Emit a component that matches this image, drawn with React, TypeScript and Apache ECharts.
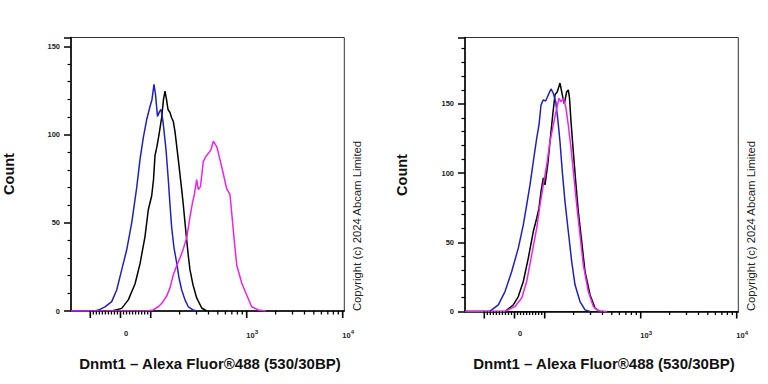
import React, { useEffect, useRef } from "react";
import * as echarts from "echarts";

// ---- x-axis: biexponential display (channel units) ----
const ZERO = 49.5; // channel of value 0
const SLOPE = 0.302; // channels per unit in linear region
const LIN = 100; // linear region limit
const DEC = 96; // channels per decade
const X_MAX = 273.3;
const T = (v: number): number =>
  Math.abs(v) <= LIN
    ? ZERO + SLOPE * v
    : ZERO + Math.sign(v) * (SLOPE * LIN + DEC * Math.log10(Math.abs(v) / LIN));

const xMajorTicks = [-100, 0, 100, 1000, 10000];
const xMinorTicks = [
  -90, -80, -70, -60, -50, -40, -30, -20, -10, 10, 20, 30, 40, 50, 60, 70, 80, 90,
  200, 300, 400, 500, 600, 700, 800, 900, 2000, 3000, 4000, 5000, 6000, 7000, 8000, 9000,
];
const xLabelValues = [0, 1000, 10000];
const xLabelTexts = ["0", "10{s|3}", "10{s|4}"];

// ---- y-axis ----
const yMaxLeft = 155;
const yMaxRight = 198;
const yInterval = 50;
const yMajorTicks = [0, 50, 100, 150];

// ---- left panel histograms (x in display channels, y = count) ----
const blueLeftX = [0, 24, 29, 34, 40.7, 45.7, 50.7, 55.7, 60.7, 65.7, 69, 72.3, 75.7, 79, 81, 83, 84.5, 86.5, 88.5, 90, 92, 95, 97.3, 99, 100.7, 103, 105.7, 108, 110.7, 114, 117.3, 122, 126];
const blueLeftY = [0, 0, 0.9, 2.3, 5.3, 11.9, 23.3, 34.7, 50, 69.9, 85.8, 98.3, 108.5, 115.9, 119.9, 128.4, 122.7, 110.2, 113, 114.2, 107.4, 91.5, 74.4, 60.2, 47.2, 35.8, 27.3, 18.8, 11.9, 6.3, 2.4, 0.6, 0];
const blackLeftX = [0, 40.7, 50.7, 57.3, 64, 69, 74, 77.3, 80.7, 82.5, 84, 86, 88, 90.7, 92.5, 94, 95.5, 97, 99, 100.5, 102.3, 104, 107.3, 110.7, 112.3, 114, 115.7, 117.3, 119, 122, 125.7, 130.7, 135.7];
const blackLeftY = [0, 0, 1.5, 6.3, 15.3, 26.7, 42.2, 57.4, 65.3, 74.4, 88.1, 93.4, 100, 109.7, 119.9, 124.6, 119.9, 114.2, 112.5, 109.7, 107.4, 101.7, 85.8, 68.8, 60.2, 50, 40.3, 31.3, 23.3, 14.8, 7.4, 1.7, 0];
const magentaLeftX = [0, 75.7, 82, 87.3, 91, 95.7, 99, 102.3, 105.7, 109, 112.3, 115.7, 119, 121.5, 123.3, 125.7, 127.3, 129.5, 132.3, 135, 137.3, 140, 142.3, 145.7, 149, 152.3, 155.7, 159, 160.7, 163, 165.7, 170.7, 175.7, 180.7, 187.3, 195];
const magentaLeftY = [0, 0, 0.6, 2.4, 4.5, 8.5, 13.1, 20.5, 25.6, 30.1, 35.2, 41.5, 53.4, 61.4, 65.9, 74.4, 68.8, 70.5, 84.7, 87.7, 89.2, 91.5, 96.2, 93.2, 85.8, 77.8, 69.3, 65.9, 55.7, 41.5, 26.1, 15.9, 9.1, 2.4, 0.6, 0];

// ---- right panel histograms ----
const blueRightX = [0, 24, 26.7, 33.3, 40, 46.7, 53.3, 58.3, 61.7, 65, 68.3, 71.7, 74, 76, 78.3, 80.7, 83.3, 86, 88.3, 90.7, 92.7, 95, 97.3, 100, 103.3, 106.7, 110, 115, 120, 125];
const blueRightY = [0, 0, 1.2, 4.8, 14.4, 28.9, 45.8, 62.6, 77, 91.5, 108.3, 125.2, 134.8, 149.2, 152.9, 152.1, 156.5, 160.8, 157.7, 151.6, 139.6, 122.7, 101.1, 79.4, 57.8, 36.1, 19.3, 7.2, 1.2, 0];
const blackRightX = [0, 40, 48.3, 53.3, 58.3, 63.3, 68.3, 71.7, 74, 76, 78.3, 80, 82.7, 85, 87.7, 90, 92.3, 95, 97.3, 99.3, 101.7, 103.3, 104.5, 106, 108.3, 110.7, 113.3, 116.7, 120, 125, 130, 135];
const blackRightY = [0, 0, 4.8, 10.8, 21.7, 38.6, 57.8, 67.4, 74.7, 86.6, 96.5, 91.5, 105.9, 122.7, 142, 156.5, 158.8, 165.1, 156.5, 150, 158.8, 160.1, 154.3, 137.2, 115.5, 93.9, 72.2, 50.5, 28.9, 12.1, 2.5, 0];
const magentaRightX = [0, 40, 50, 56.7, 61.7, 66.7, 71.7, 75, 78.3, 81.7, 85, 88.3, 91.7, 94, 96, 98.3, 100.7, 103.3, 106, 108.7, 111.7, 115, 118.3, 123.3, 128.3, 133.3, 142];
const magentaRightY = [0, 0, 3.6, 9.7, 21.7, 40.9, 60.2, 77, 91.5, 105.9, 122.7, 134.8, 146.9, 154.1, 151.6, 154.1, 148, 134.8, 118, 98.7, 77, 55.4, 33.7, 14.4, 3.6, 0.5, 0];

const COLORS = { blue: "#2020c0", black: "#000000", magenta: "#ee22ee" };
const FONT = 'Arial, "Liberation Sans", Helvetica, sans-serif';
const XTITLE = "Dnmt1 \u2013 Alexa Fluor\u00AE488 (530/30BP)";
const COPYRIGHT = "Copyright (c) 2024 Abcam Limited";

const MAJOR_LEN = 7;
const MINOR_LEN = 3.5;

const zip = (xs: number[], ys: number[]) => xs.map((x, i) => [x, ys[i]]);

export default function App() {
  const ref = useRef<HTMLDivElement>(null);
  useEffect(() => {
    if (!ref.current) return;
    const chart = echarts.init(ref.current, null, { renderer: "svg" });

    const grids = [
      { left: 71, top: 37.5, width: 273.3, height: 273.5 },
      { left: 465, top: 37.5, width: 273.3, height: 274 },
    ];
    const ymaxes = [yMaxLeft, yMaxRight];

    const xAxes: any[] = [];
    const yAxes: any[] = [];
    [0, 1].forEach((g) => {
      xAxes.push({
        type: "value",
        gridIndex: g,
        min: 0,
        max: X_MAX,
        position: "bottom",
        splitLine: { show: false },
        axisLine: { show: true, onZero: false, lineStyle: { color: "#000", width: 1.5 } },
        axisTick: { show: false },
        axisLabel: {
          show: true,
          customValues: xLabelValues.map(T),
          margin: 18,
          padding: [0, 0, 0, 11],
          color: "#222",
          fontSize: 7.5,
          fontWeight: "bold",
          fontFamily: FONT,
          formatter: (v: number) => {
            let best = 0;
            xLabelValues.forEach((lv, i) => {
              if (Math.abs(T(lv) - v) < Math.abs(T(xLabelValues[best]) - v)) best = i;
            });
            return xLabelTexts[best];
          },
          rich: {
            s: { fontSize: 6, fontWeight: "bold", color: "#222", fontFamily: FONT, padding: [0, 0, 6, 0] },
          },
        },
      });
      yAxes.push({
        type: "value",
        gridIndex: g,
        min: 0,
        max: ymaxes[g],
        interval: yInterval,
        position: "left",
        splitLine: { show: false },
        axisLine: { show: true, onZero: false, lineStyle: { color: "#000", width: 1.5 } },
        axisTick: { show: true, length: MAJOR_LEN, lineStyle: { color: "#000", width: 1.5 } },
        minorTick: { show: true, splitNumber: 5, length: MINOR_LEN, lineStyle: { color: "#000", width: 1.2 } },
        axisLabel: {
          show: true,
          customValues: yMajorTicks,
          margin: 11,
          color: "#222",
          fontSize: 7.5,
          fontWeight: "bold",
          fontFamily: FONT,
        },
      });
    });

    const mk = (color: string, xs: number[], ys: number[], g: number) => ({
      type: "line",
      xAxisIndex: g,
      yAxisIndex: g,
      data: zip(xs, ys),
      showSymbol: false,
      symbol: "none",
      lineStyle: { color, width: 1.5 },
      itemStyle: { color },
      z: 3,
    });

    const titleStyle = { fontSize: 15, fontWeight: "bold", fontFamily: FONT, fill: "#111" };
    const copyStyle = {
      text: COPYRIGHT, fontSize: 11.3, fontFamily: FONT, fill: "#222",
      align: "center", verticalAlign: "middle",
    };
    const textGraphics: any[] = [
      { type: "text", x: 9, y: 174, rotation: Math.PI / 2,
        style: { ...titleStyle, text: "Count", align: "center", verticalAlign: "middle", fontSize: 14.5 } },
      { type: "text", x: 402, y: 175, rotation: Math.PI / 2,
        style: { ...titleStyle, text: "Count", align: "center", verticalAlign: "middle", fontSize: 14.5 } },
      { type: "text", x: 210, y: 363, style: { ...titleStyle, text: XTITLE, align: "center", verticalAlign: "middle" } },
      { type: "text", x: 604, y: 363, style: { ...titleStyle, text: XTITLE, align: "center", verticalAlign: "middle" } },
      { type: "text", x: 357, y: 226, rotation: Math.PI / 2, style: copyStyle },
      { type: "text", x: 751, y: 226, rotation: Math.PI / 2, style: copyStyle },
    ];

    chart.setOption({
      animation: false,
      backgroundColor: "#fff",
      grid: grids.map((g) => ({ ...g, show: true, borderColor: "#333", borderWidth: 1 })),
      xAxis: xAxes,
      yAxis: yAxes,
      series: [
        mk(COLORS.black, blackLeftX, blackLeftY, 0),
        mk(COLORS.blue, blueLeftX, blueLeftY, 0),
        mk(COLORS.magenta, magentaLeftX, magentaLeftY, 0),
        mk(COLORS.black, blackRightX, blackRightY, 1),
        mk(COLORS.blue, blueRightX, blueRightY, 1),
        mk(COLORS.magenta, magentaRightX, magentaRightY, 1),
      ],
      graphic: textGraphics,
    });

    // x-axis tick marks: positions from the chart's own axis scale
    const tickGraphics: any[] = [];
    try {
      [0, 1].forEach((g) => {
        const y0 = Number(chart.convertToPixel({ yAxisIndex: g } as any, 0));
        const xTicks: [number, number][] = [
          ...xMajorTicks.map((v) => [T(v), MAJOR_LEN] as [number, number]),
          ...xMinorTicks.map((v) => [T(v), MINOR_LEN] as [number, number]),
        ];
        xTicks.forEach(([c, len]) => {
          const x = Number(chart.convertToPixel({ xAxisIndex: g } as any, c));
          if (!isFinite(x) || !isFinite(y0)) return;
          tickGraphics.push({
            type: "line",
            shape: { x1: x, y1: y0, x2: x, y2: y0 + len },
            style: { stroke: "#000", lineWidth: len > 5 ? 1.6 : 1.3 },
            z: 100,
          });
        });
      });
    } catch (e) {
      // ticks are decorative
    }
    chart.setOption({ graphic: [...textGraphics, ...tickGraphics] });

    return () => chart.dispose();
  }, []);

  return (
    <div
      ref={ref}
      style={{ position: "fixed", left: 0, top: 0, width: 768, height: 384, background: "#fff" }}
    />
  );
}
